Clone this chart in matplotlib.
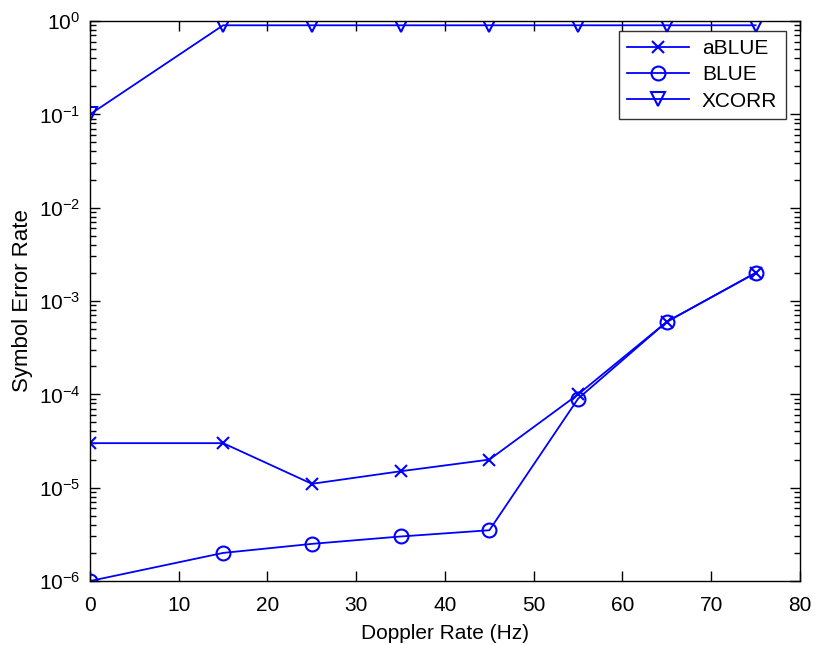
import matplotlib
matplotlib.use('Agg')
import matplotlib.pyplot as plt
from matplotlib.ticker import FixedLocator, NullFormatter

plt.rcParams['font.family'] = ['Liberation Sans', 'DejaVu Sans']
plt.rcParams['mathtext.fontset'] = 'custom'
plt.rcParams['mathtext.rm'] = 'Liberation Sans'
plt.rcParams['mathtext.it'] = 'Liberation Sans'
plt.rcParams['mathtext.default'] = 'regular'

# Doppler rate (Hz)
doppler = [0, 15, 25, 35, 45, 55, 65, 75]
# symbol error rates
ser_ablue = [3e-5, 3e-5, 1.1e-5, 1.5e-5, 2e-5, 1e-4, 6e-4, 2e-3]
ser_blue = [1e-6, 2e-6, 2.5e-6, 3e-6, 3.5e-6, 9e-5, 6e-4, 2e-3]
ser_xcorr = [0.1, 0.9, 0.9, 0.9, 0.9, 0.9, 0.9, 0.9]

fig = plt.figure(figsize=(8.15, 6.45), dpi=100)
ax = fig.add_axes([0.1104, 0.0992, 0.8712, 0.8682])

blue = (0, 0, 1)
ax.semilogy(doppler, ser_ablue, '-x', color=blue, lw=1.3, ms=8, mew=1.5,
            label='aBLUE')
ax.semilogy(doppler, ser_blue, '-o', color=blue, lw=1.3, ms=10, mew=1.5,
            mfc='none', label='BLUE')
ax.semilogy(doppler, ser_xcorr, '-v', color=blue, lw=1.3, ms=10, mew=1.5,
            mfc='none', label='XCORR')

ax.set_xlim(0, 80)
ax.set_ylim(1e-6, 1)
ax.set_xticks(range(0, 81, 10))
decades = [10.0 ** e for e in range(-6, 1)]
ax.yaxis.set_major_locator(FixedLocator(decades))
ax.set_yticklabels(['$10^{%d}$' % e for e in range(-6, 1)])
minors = [m * d for d in decades[:-1] for m in range(2, 10)]
ax.yaxis.set_minor_locator(FixedLocator(minors))
ax.yaxis.set_minor_formatter(NullFormatter())
ax.tick_params(which='both', direction='in', top=True, right=True, width=1)
ax.tick_params(which='major', length=7)
ax.tick_params(which='minor', length=4)
ax.tick_params(axis='x', labelsize=15, pad=11)
ax.tick_params(axis='y', labelsize=15, pad=7)
for s in ax.spines.values():
    s.set_linewidth(1)

ax.set_xlabel('Doppler Rate (Hz)', fontsize=15, labelpad=6)
ax.set_ylabel('Symbol Error Rate', fontsize=16, labelpad=4)

leg = ax.legend(loc='upper right', bbox_to_anchor=(0.9797, 0.9826),
                fontsize=15, fancybox=False, edgecolor='black',
                handlelength=3.0, borderaxespad=0, labelspacing=0.35,
                borderpad=0.4, handletextpad=0.6)
leg.get_frame().set_linewidth(1)

plt.savefig('out.png', dpi=100)
